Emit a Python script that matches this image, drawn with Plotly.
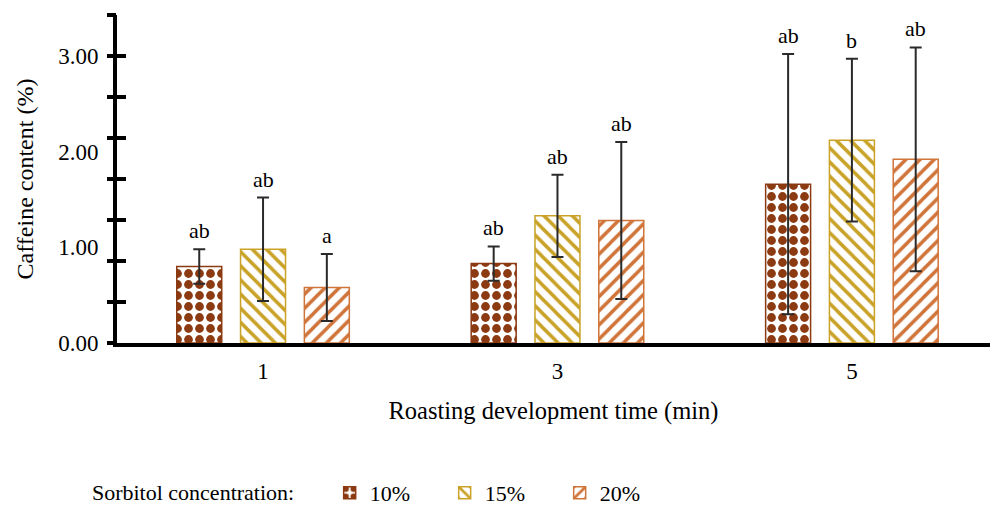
import plotly.graph_objects as go

# ---- data ----
times = ["1", "3", "5"]
series_names = ["10%", "15%", "20%"]
vals_10 = [0.80, 0.83, 1.66]
vals_15 = [0.98, 1.33, 2.12]
vals_20 = [0.58, 1.28, 1.92]
err_10 = [0.18, 0.18, 1.36]
err_15 = [0.54, 0.43, 0.85]
err_20 = [0.35, 0.82, 1.17]
let_10 = ["ab", "ab", "ab"]
let_15 = ["ab", "ab", "b"]
let_20 = ["a", "ab", "ab"]
y_ticks = [0, 1, 2, 3]
y_ticktext = ["0.00", "1.00", "2.00", "3.00"]

colors = ["#8B3A12", "#C9A227", "#D0743A"]
shapes = [".", "\\", "/"]
sizes = [11, 10, 10]
solid = [0.5, 0.35, 0.35]

FONT = "Liberation Serif, Times New Roman, serif"
FS = 23

vals = [vals_10, vals_15, vals_20]
errs = [err_10, err_15, err_20]
lets = [let_10, let_15, let_20]

bargap = 0.35
bargroupgap = 0.295
n = len(series_names)
xpos = list(range(len(times)))
slot = (1 - bargap) / n

fig = go.Figure()
for i in range(n):
    fig.add_trace(go.Bar(
        x=xpos, y=vals[i], name=series_names[i],
        marker=dict(color="white",
                    line=dict(color=colors[i], width=1.5),
                    pattern=dict(shape=shapes[i], fgcolor=colors[i], bgcolor="white",
                                 fgopacity=1, size=sizes[i], solidity=solid[i],
                                 fillmode="overlay")),
        error_y=dict(type="data", array=errs[i], visible=True, color="#2a2a2a",
                     thickness=2, width=6),
    ))

# significance letters above error bars
for i in range(n):
    off = -(1 - bargap) / 2 + slot * (i + 0.5)
    for j in range(len(times)):
        fig.add_annotation(x=xpos[j] + off, y=vals[i][j] + errs[i][j], text=lets[i][j],
                           showarrow=False, yanchor="bottom", yshift=4,
                           font=dict(family=FONT, size=FS - 1, color="black"))

ymax = 3 / 7 * 8
minor_ticks = [k * 3 / 7 for k in range(9)]

# empty traces so the overlay tick axes are drawn
fig.add_trace(go.Scatter(x=[], y=[], yaxis="y2", showlegend=False, hoverinfo="skip"))
fig.add_trace(go.Scatter(x=[], y=[], yaxis="y3", showlegend=False, hoverinfo="skip"))

fig.update_layout(
    width=990, height=506,
    margin=dict(l=117, r=0, t=15, b=163, autoexpand=False),
    paper_bgcolor="white", plot_bgcolor="white",
    font=dict(family=FONT, size=FS, color="black"),
    barmode="group", bargap=bargap, bargroupgap=bargroupgap,
    xaxis=dict(range=[-0.496, 2.469], tickvals=xpos, ticktext=times, automargin=False,
               showline=True, linecolor="black", linewidth=4,
               ticks="", ticklabelstandoff=4, showgrid=False, zeroline=False,
               tickfont=dict(family=FONT, size=FS),
               title=dict(text="Roasting development time (min)", standoff=20,
                          font=dict(family=FONT, size=24.5))),
    yaxis=dict(range=[0, ymax], tickvals=y_ticks, ticktext=y_ticktext, automargin=False,
               showline=True, linecolor="black", linewidth=4,
               ticks="", ticklabelstandoff=10, showgrid=False, zeroline=False,
               tickfont=dict(family=FONT, size=FS),
               title=dict(text="Caffeine content (%)", standoff=19,
                          font=dict(family=FONT, size=24))),
    yaxis2=dict(range=[0, ymax], overlaying="y", side="left", anchor="x", automargin=False,
                tickvals=minor_ticks, ticks="outside", ticklen=9, tickwidth=4,
                tickcolor="black", showticklabels=False, showline=False,
                showgrid=False, zeroline=False),
    yaxis3=dict(range=[0, ymax], overlaying="y", side="left", anchor="x", automargin=False,
                tickvals=minor_ticks, ticks="inside", ticklen=9, tickwidth=4,
                tickcolor="black", showticklabels=False, showline=False,
                showgrid=False, zeroline=False),
    legend=dict(orientation="h", x=-0.031, xanchor="left", y=-0.457, yanchor="middle",
                title=dict(text="Sorbitol concentration:\u00a0\u00a0\u00a0\u00a0\u00a0",
                           font=dict(family=FONT, size=22)),
                font=dict(family=FONT, size=22), entrywidth=70, entrywidthmode="pixels",
                itemwidth=30, traceorder="normal"),
    showlegend=True,
)

fig.write_html("out.html", config={"displayModeBar": False},
               post_script="document.body.style.margin='0px';")
